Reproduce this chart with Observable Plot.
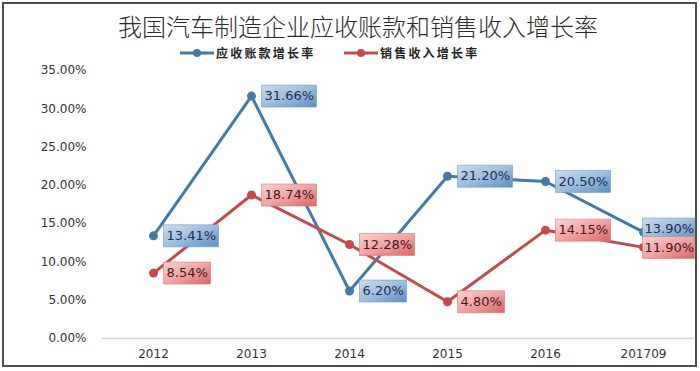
<!DOCTYPE html>
<html><head><meta charset="utf-8">
<script src="https://cdn.jsdelivr.net/npm/d3@7"></script>
<script src="https://cdn.jsdelivr.net/npm/@observablehq/plot@0.6"></script>
<style>
body{margin:0;background:#fff;}
#wrap{position:relative;width:700px;height:371px;background:#fff;overflow:hidden;}
#frame{position:absolute;left:2px;top:2px;width:691px;height:361px;border:2px solid #4d4d4d;pointer-events:none;}
#title{position:absolute;top:14px;left:118px;height:24px;line-height:24px;font-family:"Noto Sans CJK SC";font-weight:300;font-size:24px;color:#2b2b2b;white-space:nowrap;}
.leg{position:absolute;top:46px;height:14px;line-height:14px;display:flex;align-items:center;font-family:"Noto Sans CJK SC";font-weight:bold;font-size:12px;letter-spacing:2.2px;color:#222;white-space:nowrap;}
.leg svg{margin-right:2px;}
#chart{position:absolute;left:0;top:0;}
</style></head>
<body>
<div id="wrap">
  <div id="chart"></div>
  <div id="title"></div>
  <div class="leg" id="leg1" style="left:180px"></div>
  <div class="leg" id="leg2" style="left:344px"></div>
  <div id="frame"></div>
</div>
<script>
const title = "我国汽车制造企业应收账款和销售收入增长率";
const years = ["2012", "2013", "2014", "2015", "2016", "201709"];
const seriesNames = ["应收账款增长率", "销售收入增长率"];
const receivables = [13.41, 31.66, 6.20, 21.20, 20.50, 13.90];
const sales = [8.54, 18.74, 12.28, 4.80, 14.15, 11.90];
const yTicks = [0, 5, 10, 15, 20, 25, 30, 35];

const colors = {blue: "#437aa6", red: "#c64a4b"};
const fmt = v => v.toFixed(2) + "%";

const lastYear = years[years.length - 1];
const dataB = years.map((y, i) => ({year: y, value: receivables[i], label: fmt(receivables[i])}));
const dataR = years.map((y, i) => ({year: y, value: sales[i], label: fmt(sales[i])}));

function boxSymbol(w, h) {
  return {draw(ctx) { ctx.rect(-w / 2, -h / 2, w, h); }};
}
const W6 = 55, W5 = 47, H = 22, WLAST = 52;
function labelMarks(data, fillId, strokeColor, textColor, lastDy) {
  const common = {x: "year", y: "value", fill: `url(#${fillId})`, stroke: strokeColor, strokeWidth: 0.6};
  const mid = data.filter(d => d.year !== lastYear);
  const last = data.filter(d => d.year === lastYear);
  return [
    Plot.dot(mid.filter(d => d.label.length >= 6), {...common, symbol: boxSymbol(W6, H), dx: 10 + W6 / 2}),
    Plot.dot(mid.filter(d => d.label.length < 6), {...common, symbol: boxSymbol(W5, H), dx: 10 + W5 / 2}),
    Plot.text(mid, {x: "year", y: "value", text: "label", dx: 13, textAnchor: "start", fill: textColor, fontSize: 13, fontFamily: "DejaVu Sans"}),
    Plot.dot(last, {...common, symbol: boxSymbol(WLAST, H), dx: -1 + WLAST / 2, dy: lastDy}),
    Plot.text(last, {x: "year", y: "value", text: "label", dx: 1, dy: lastDy, textAnchor: "start", fill: textColor, fontSize: 13, fontFamily: "DejaVu Sans"})
  ];
}

const chart = Plot.plot({
  width: 700, height: 371,
  marginTop: 70, marginBottom: 33, marginLeft: 102, marginRight: 6,
  style: {fontFamily: "DejaVu Sans", fontSize: "12px", color: "#333", background: "transparent"},
  x: {type: "point", domain: years, padding: 0.5, label: null, tickSize: 0, tickPadding: 11},
  y: {domain: [0, 35], ticks: yTicks, tickFormat: fmt, label: null, tickSize: 0, tickPadding: 16},
  marks: [
    Plot.ruleY([0], {stroke: "#d4d4d4", strokeWidth: 1.5}),
    Plot.line(dataB, {x: "year", y: "value", stroke: colors.blue, strokeWidth: 3}),
    Plot.line(dataR, {x: "year", y: "value", stroke: colors.red, strokeWidth: 3}),
    Plot.dot(dataB, {x: "year", y: "value", r: 4.5, fill: colors.blue}),
    Plot.dot(dataR, {x: "year", y: "value", r: 4.5, fill: colors.red}),
    ...labelMarks(dataB, "gradBlue", "#6f9bc6", "#1d2d48", -3),
    ...labelMarks(dataR, "gradRed", "#d47a7a", "#4a1414", 0)
  ]
});

const defs = d3.select(chart).insert("defs", ":first-child");
function grad(id, stops) {
  const g = defs.append("linearGradient").attr("id", id).attr("x1", "0").attr("y1", "0").attr("x2", "1").attr("y2", "1");
  stops.forEach(([o, c]) => g.append("stop").attr("offset", o).attr("stop-color", c));
}
grad("gradBlue", [[0, "#c9dcee"], [0.5, "#9dbfe0"], [1, "#5a8fc2"]]);
grad("gradRed", [[0, "#fbd2d2"], [0.5, "#f0a4a4"], [1, "#d96565"]]);

document.getElementById("chart").appendChild(chart);
document.getElementById("title").textContent = title;

function legendSwatch(color) {
  return `<svg width="34" height="10"><line x1="0" y1="5" x2="34" y2="5" stroke="${color}" stroke-width="3"/><circle cx="17" cy="5" r="4" fill="${color}"/></svg>`;
}
document.getElementById("leg1").innerHTML = legendSwatch(colors.blue) + `<span>${seriesNames[0]}</span>`;
document.getElementById("leg2").innerHTML = legendSwatch(colors.red) + `<span>${seriesNames[1]}</span>`;
</script>
</body></html>
